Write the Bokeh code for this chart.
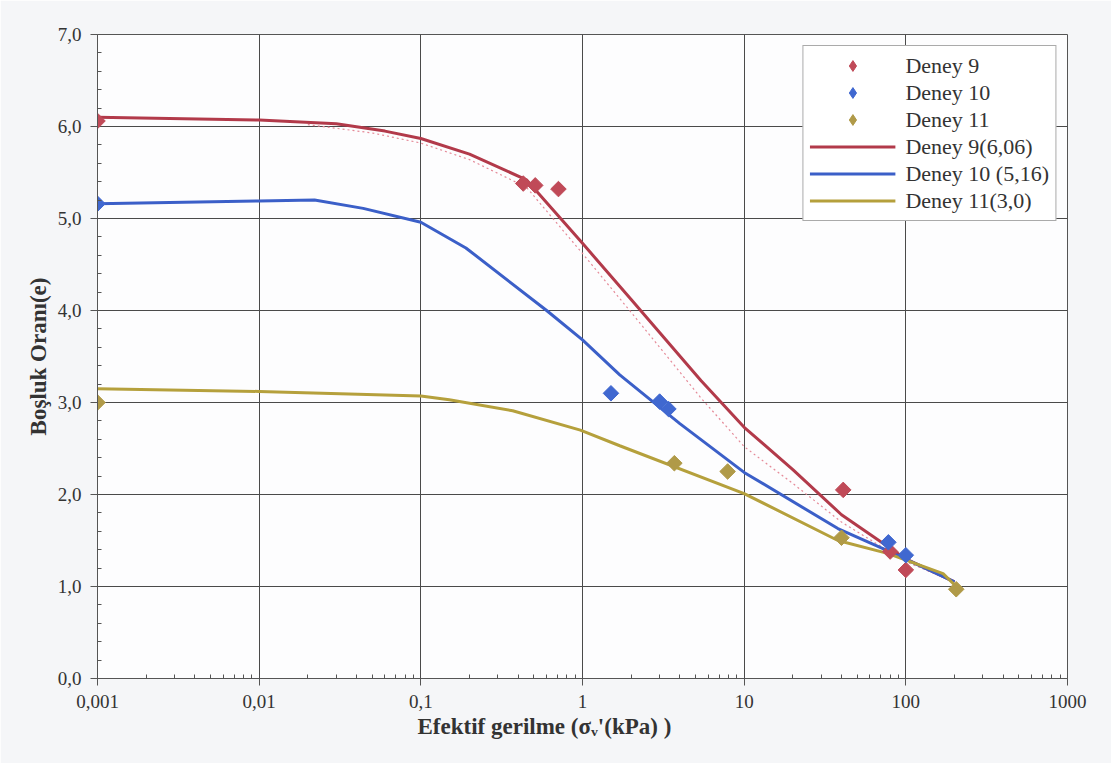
import math
from bokeh.plotting import figure
from bokeh.models import FixedTicker, Legend, LegendItem, Title, Range1d
from bokeh.embed import file_html
from bokeh.resources import INLINE

# ---- data ----
d9_x = [0.001, 0.43, 0.51, 0.71, 41, 80, 100]
d9_y = [6.06, 5.38, 5.36, 5.32, 2.05, 1.38, 1.18]
d10_x = [0.001, 1.5, 3.0, 3.4, 78, 100]
d10_y = [5.16, 3.10, 3.01, 2.93, 1.48, 1.34]
d11_x = [0.001, 3.7, 7.9, 40, 205]
d11_y = [3.00, 2.34, 2.25, 1.53, 0.97]

c9_x = [0.001, 0.01, 0.03, 0.06, 0.1, 0.2, 0.45, 1, 2, 5.4, 10, 20, 40, 100, 200]
c9_y = [6.10, 6.07, 6.03, 5.95, 5.87, 5.70, 5.42, 4.73, 4.12, 3.24, 2.73, 2.27, 1.78, 1.30, 1.05]
c10_x = [0.001, 0.01, 0.022, 0.044, 0.1, 0.19, 0.6, 1, 1.7, 4, 10, 38, 77, 200]
c10_y = [5.16, 5.19, 5.20, 5.11, 4.96, 4.68, 4.00, 3.68, 3.30, 2.77, 2.24, 1.63, 1.39, 1.05]
c11_x = [0.001, 0.01, 0.1, 0.15, 0.37, 0.97, 1.7, 10, 38, 77, 170, 205]
c11_y = [3.15, 3.12, 3.07, 3.03, 2.91, 2.70, 2.53, 2.01, 1.50, 1.36, 1.14, 1.00]
dot9_x = [0.02, 0.05, 0.1, 0.2, 0.45, 1, 2, 5.4, 10, 20, 40, 100, 200]
dot9_y = [6.02, 5.93, 5.82, 5.64, 5.34, 4.62, 3.98, 3.05, 2.52, 2.12, 1.70, 1.27, 1.05]

x_ticks = [0.001, 0.01, 0.1, 1, 10, 100, 1000]
x_tick_labels = ["0,001", "0,01", "0,1", "1", "10", "100", "1000"]
y_ticks = [0, 1, 2, 3, 4, 5, 6, 7]
y_tick_labels = ["0,0", "1,0", "2,0", "3,0", "4,0", "5,0", "6,0", "7,0"]

labels = ["Deney 9", "Deney 10", "Deney 11",
          "Deney 9(6,06)", "Deney 10 (5,16)", "Deney 11(3,0)"]

RED, BLUE, OLIVE = "#b23a4a", "#3b5fc8", "#b5a03c"
RED_M, BLUE_M, OLIVE_M = "#c04a58", "#4068d0", "#b09a48"
FONT = "'Liberation Serif'"

p = figure(width=1111, height=763, x_axis_type="log",
           x_range=Range1d(0.001, 1000), y_range=Range1d(0, 7),
           output_backend="svg", toolbar_location=None,
           min_border_left=97, min_border_right=44,
           min_border_top=34, min_border_bottom=85)
p.background_fill_color = "#fdfdfe"
p.border_fill_color = "#f5f6f8"
p.outline_line_color = "#555555"
p.styles = {"outline": "1px solid #8a8a8a", "outline-offset": "-5px"}

minor_x = [m * 10.0 ** k for k in range(-3, 3) for m in range(2, 10)]
minor_y = [i / 5 for i in range(0, 36) if i % 5 != 0]
p.xaxis.ticker = FixedTicker(ticks=x_ticks, minor_ticks=minor_x)
p.yaxis.ticker = FixedTicker(ticks=y_ticks, minor_ticks=minor_y)
p.xaxis.major_label_overrides = dict(zip(x_ticks, x_tick_labels))
p.yaxis.major_label_overrides = dict(zip(y_ticks, y_tick_labels))

for ax in (p.xaxis[0], p.yaxis[0]):
    ax.axis_line_color = "#555555"
    ax.major_tick_line_color = "#555555"
    ax.minor_tick_line_color = "#555555"
    ax.major_tick_out = 7
    ax.major_tick_in = 0
    ax.minor_tick_in = 4
    ax.minor_tick_out = 0
    ax.major_label_text_font = FONT
    ax.major_label_text_font_size = "19px"
    ax.major_label_text_color = "#333333"
    ax.major_label_standoff = 9

p.xgrid.grid_line_color = "#4a4a4a"
p.ygrid.grid_line_color = "#4a4a4a"
p.xgrid.grid_line_width = 1
p.ygrid.grid_line_width = 1

p.yaxis.axis_label = "Boşluk Oranı(e)"
p.yaxis.axis_label_text_font = FONT
p.yaxis.axis_label_text_font_size = "23px"
p.yaxis.axis_label_text_font_style = "bold"
p.yaxis.axis_label_text_color = "#333333"
p.yaxis.axis_label_standoff = 4

xt = Title(text="Efektif gerilme (σᵥ'(kPa) )", align="left", offset=320,
           text_font=FONT, text_font_size="23px", text_font_style="bold",
           text_color="#333333", standoff=2)
p.add_layout(xt, "below")

# dotted faint line near Deney 9 curve
p.line(dot9_x, dot9_y, line_color="#e58a98", line_width=1.2, line_dash="2 3")

l9 = p.line(c9_x, c9_y, line_color=RED, line_width=3)
l10 = p.line(c10_x, c10_y, line_color=BLUE, line_width=3)
l11 = p.line(c11_x, c11_y, line_color=OLIVE, line_width=3)

A = math.pi / 4
p.scatter(d9_x, d9_y, marker="square", angle=A, size=11, fill_color=RED_M, line_color=RED_M)
p.scatter(d10_x, d10_y, marker="square", angle=A, size=11, fill_color=BLUE_M, line_color=BLUE_M)
p.scatter(d11_x, d11_y, marker="square", angle=A, size=11, fill_color=OLIVE_M, line_color=OLIVE_M)

# legend swatches: diamond markers of zero size on the plot (legend sizes its own)
k9 = p.scatter(d9_x[:1], d9_y[:1], marker="diamond", size=0, fill_color=RED_M, line_color=RED_M)
k10 = p.scatter(d10_x[:1], d10_y[:1], marker="diamond", size=0, fill_color=BLUE_M, line_color=BLUE_M)
k11 = p.scatter(d11_x[:1], d11_y[:1], marker="diamond", size=0, fill_color=OLIVE_M, line_color=OLIVE_M)

legend = Legend(items=[LegendItem(label=labels[0], renderers=[k9]),
                       LegendItem(label=labels[1], renderers=[k10]),
                       LegendItem(label=labels[2], renderers=[k11]),
                       LegendItem(label=labels[3], renderers=[l9]),
                       LegendItem(label=labels[4], renderers=[l10]),
                       LegendItem(label=labels[5], renderers=[l11])],
                location="top_right", margin=11, padding=6, spacing=0,
                glyph_width=86, glyph_height=27, label_standoff=10,
                label_text_font=FONT, label_text_font_size="22px",
                label_text_color="#333333",
                border_line_color="#555555", border_line_width=1,
                background_fill_color="#ffffff", background_fill_alpha=1.0)
p.add_layout(legend)

open("out.html", "w").write(file_html(p, INLINE))
